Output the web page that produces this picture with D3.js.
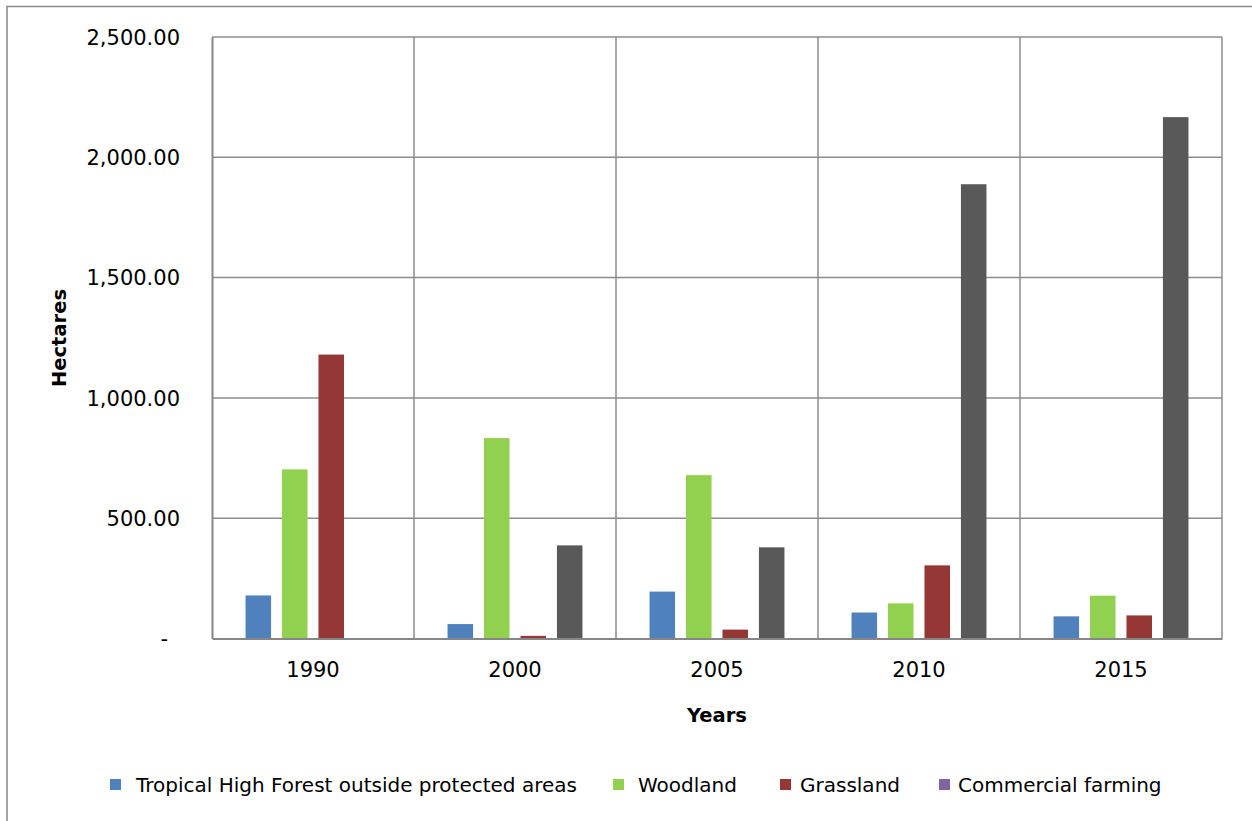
<!DOCTYPE html>
<html>
<head>
<meta charset="utf-8">
<script src="https://cdn.jsdelivr.net/npm/d3@7"></script>
<style>
  html, body { margin: 0; padding: 0; background: #fff; }
  svg { display: block; }
  text { font-family: "DejaVu Sans", sans-serif; fill: #000; }
</style>
</head>
<body>
<svg id="chart" width="1252" height="821"></svg>
<script>
// Land-cover change by year (hectares)
const years = ["1990", "2000", "2005", "2010", "2015"];
const seriesNames = [
  "Tropical High Forest outside protected areas",
  "Woodland",
  "Grassland",
  "Commercial farming"
];
const tropicalHighForest = [179, 60, 195, 108, 92];
const woodland = [703, 833, 679, 146, 178];
const grassland = [1180, 11, 37, 304, 96];
const commercialFarming = [0, 387, 379, 1888, 2167];
const yTicks = [0, 500, 1000, 1500, 2000, 2500];

const barColors = ["#4F81BD", "#92D050", "#953735", "#595959"];
const legendColors = ["#4F81BD", "#92D050", "#953735", "#8064A2"];

const values = [tropicalHighForest, woodland, grassland, commercialFarming];
const rows = years.map((y, i) => ({
  year: y,
  vals: seriesNames.map((s, k) => ({ key: s, k, value: values[k][i] }))
}));

const svg = d3.select("#chart");
const plot = { left: 212, right: 1222, top: 37, bottom: 638.5 };

// outer chart frame
svg.append("rect")
  .attr("x", 7).attr("y", 6.5)
  .attr("width", 1260).attr("height", 830)
  .attr("fill", "none").attr("stroke", "#888").attr("stroke-width", 1.5);

const x0 = d3.scaleBand().domain(years).range([plot.left, plot.right]).padding(0);
const x1 = d3.scaleBand().domain(seriesNames).range([0, x0.bandwidth()])
  .paddingInner(0.30).paddingOuter(0.92);
const y = d3.scaleLinear().domain([0, 2500]).range([plot.bottom, plot.top]);

const gridColor = "#8C8C8C";

// horizontal gridlines
svg.append("g").selectAll("line").data(yTicks.slice(1)).join("line")
  .attr("x1", plot.left).attr("x2", plot.right)
  .attr("y1", d => y(d)).attr("y2", d => y(d))
  .attr("stroke", gridColor).attr("stroke-width", 1.5);

// vertical gridlines at category boundaries
const bounds = years.map(d => x0(d)).concat([plot.right]);
svg.append("g").selectAll("line").data(bounds.slice(1)).join("line")
  .attr("x1", d => d).attr("x2", d => d)
  .attr("y1", plot.top).attr("y2", plot.bottom)
  .attr("stroke", gridColor).attr("stroke-width", 1.5);

// bars
svg.append("g").selectAll("g").data(rows).join("g")
  .attr("transform", d => `translate(${x0(d.year)},0)`)
  .selectAll("rect").data(d => d.vals).join("rect")
  .attr("x", d => x1(d.key))
  .attr("width", x1.bandwidth())
  .attr("y", d => y(d.value))
  .attr("height", d => y(0) - y(d.value))
  .attr("fill", d => barColors[d.k]);

// y axis
const yAxis = d3.axisLeft(y).tickValues(yTicks).tickSize(0).tickPadding(32)
  .tickFormat(d => d === 0 ? "-" : d3.format(",.2f")(d));
const gy = svg.append("g").attr("transform", `translate(${plot.left},0)`).call(yAxis);
gy.select(".domain").attr("stroke", "#868686").attr("stroke-width", 2);
gy.selectAll("text").style("font-size", "21px").attr("dy", "0.35em").attr("fill", "#000");
gy.selectAll(".tick").filter(d => d === 0).select("text").attr("dx", -12);

// x axis
const xAxis = d3.axisBottom(x0).tickSize(0).tickPadding(24);
const gx = svg.append("g").attr("transform", `translate(0,${plot.bottom})`).call(xAxis);
gx.select(".domain").attr("stroke", "#868686").attr("stroke-width", 2);
gx.selectAll("text").style("font-size", "21px").attr("fill", "#000");

// axis titles
svg.append("text")
  .attr("x", (plot.left + plot.right) / 2).attr("y", 722)
  .attr("text-anchor", "middle")
  .style("font-size", "19.5px").style("font-weight", "bold")
  .text("Years");
svg.append("text")
  .attr("transform", "translate(66,338) rotate(-90)")
  .attr("text-anchor", "middle")
  .style("font-size", "19.5px").style("font-weight", "bold")
  .text("Hectares");

// legend
const legendSwatchX = [110, 613, 780, 939];
const legendTextX = [136, 638, 800, 958];
const lg = svg.append("g").selectAll("g").data(seriesNames).join("g");
lg.append("rect")
  .attr("x", (d, i) => legendSwatchX[i]).attr("y", 779)
  .attr("width", 11).attr("height", 11)
  .attr("fill", (d, i) => legendColors[i]);
lg.append("text")
  .attr("x", (d, i) => legendTextX[i]).attr("y", 784.5).attr("dy", "0.35em")
  .style("font-size", "20px")
  .text(d => d);
</script>
</body>
</html>
